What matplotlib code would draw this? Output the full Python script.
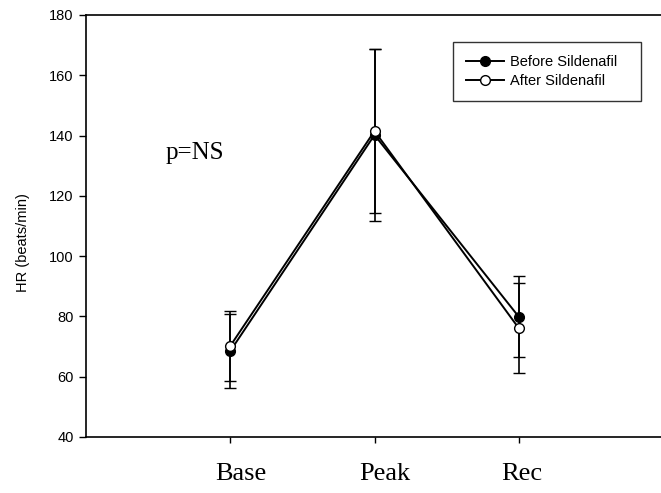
import matplotlib
matplotlib.use("Agg")
import matplotlib.pyplot as plt
from matplotlib.lines import Line2D

categories = ["Base", "Peak", "Rec"]
before_mean = [68.5, 140.2, 79.9]
before_err = [12.3, 28.5, 13.5]
after_mean = [70.2, 141.5, 76.1]
after_err = [11.7, 27.3, 14.9]
y_ticks = [40, 60, 80, 100, 120, 140, 160, 180]

fig = plt.figure(figsize=(6.61, 4.93), dpi=100)
W, H = 661, 493
ax = fig.add_axes([86 / W, 1 - 437 / H, (663 - 86) / W, (437 - 15) / H])

x = [1, 2, 3]
ax.errorbar(x, before_mean, yerr=before_err, color="black", lw=1.4,
            marker="o", ms=7, mfc="black", mec="black", mew=1.0,
            capsize=4.5, capthick=1.2, elinewidth=1.2, zorder=3)
ax.errorbar(x, after_mean, yerr=after_err, color="black", lw=1.4,
            marker="o", ms=7, mfc="white", mec="black", mew=1.0,
            capsize=4.5, capthick=1.2, elinewidth=1.2, zorder=4)

ax.set_xlim(0, 4)
ax.set_ylim(40, 180)
ax.set_yticks(y_ticks)
ax.set_yticklabels([str(v) for v in y_ticks], fontfamily="Liberation Sans", fontsize=10.5)
ax.set_xticks(x)
ax.set_xticklabels([])
ax.tick_params(axis="x", direction="out", length=4, width=1)
ax.tick_params(axis="y", direction="out", length=5, width=1, pad=4)
ax.spines["right"].set_visible(False)
for s in ["left", "bottom", "top"]:
    ax.spines[s].set_linewidth(1.2)

# category labels (placed slightly right of ticks as in reference)
label_x = [1.075, 2.07, 3.02]
for lx, lab in zip(label_x, categories):
    ax.text(lx, 25.7, lab, fontfamily="Liberation Serif", fontsize=19,
            ha="center", va="baseline", clip_on=False)

ax.set_ylabel("HR (beats/min)", fontfamily="Liberation Sans", fontsize=10.5)
ax.yaxis.set_label_coords(-0.097, 0.46)

ax.text(0.555, 132.2, "p=NS", fontfamily="Liberation Serif", fontsize=18,
        ha="left", va="baseline")

handles = [
    Line2D([], [], color="black", lw=1.4, marker="o", ms=7, mfc="black", mec="black"),
    Line2D([], [], color="black", lw=1.4, marker="o", ms=7, mfc="white", mec="black"),
]
x0 = (453 - 86) / 577
w = (641 - 453) / 577
y_top = 1 - (42 - 15) / 422
leg = ax.legend(handles, ["Before Sildenafil", "After Sildenafil"],
                loc="upper left", bbox_to_anchor=(x0, y_top - 0.2, w, 0.2), mode="expand",
                frameon=True, fancybox=False, edgecolor="black",
                prop={"family": "Liberation Sans", "size": 10.5},
                handlelength=2.6, borderpad=0.9, labelspacing=0.35, handletextpad=0.4,
                borderaxespad=0)
leg.get_frame().set_linewidth(1.0)

fig.savefig("out.png", dpi=100)
